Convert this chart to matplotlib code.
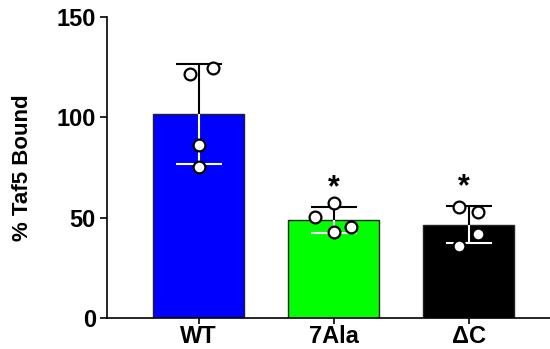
import numpy as np
import matplotlib
matplotlib.use("Agg")
import matplotlib.pyplot as plt

# data
groups = ["WT", "7Ala", "\u0394C"]
bar_colors = ["#0000ff", "#00ff00", "#000000"]
wt_points = [124.6, 121.6, 86.2, 75.2]
ala_points = [57.3, 50.3, 45.3, 42.8]
dc_points = [55.3, 52.8, 41.9, 35.9]
wt_jitter = [0.11, -0.06, 0.0, 0.0]
ala_jitter = [0.0, -0.14, 0.13, 0.0]
dc_jitter = [-0.07, 0.07, 0.07, -0.07]
significant = [False, True, True]

plt.rcParams["font.family"] = ["Liberation Sans", "DejaVu Sans"]
plt.rcParams["font.weight"] = "bold"

fig = plt.figure(figsize=(5.5, 3.49), dpi=100)
ax = fig.add_axes([0.1945, 0.0888, 0.8055, 0.8625])

points = [wt_points, ala_points, dc_points]
jitters = [wt_jitter, ala_jitter, dc_jitter]
x = np.arange(len(groups))
means = [np.mean(p) for p in points]
sds = [np.std(p, ddof=1) for p in points]

ax.bar(x, means, width=0.674, color=bar_colors, edgecolor="#222222",
       linewidth=1.0, zorder=1)

cap = 0.17
for i in range(len(groups)):
    top = means[i] + sds[i]
    bot = means[i] - sds[i]
    # upper half of the error bar in black, lower half (inside bar) in white
    ax.vlines(x[i], means[i], top, color="black", lw=1.5, zorder=2)
    ax.hlines(top, x[i] - cap, x[i] + cap, color="black", lw=1.5, zorder=2)
    ax.vlines(x[i], bot, means[i], color="white", lw=1.5, zorder=2)
    ax.hlines(bot, x[i] - cap, x[i] + cap, color="white", lw=1.5, zorder=2)
    ax.plot(x[i] + np.array(jitters[i]), points[i], "o", ms=8.5,
            mfc="white", mec="black", mew=1.6, zorder=3, clip_on=False)
    if significant[i]:
        ax.text(x[i] - 0.04 * (i == 2), top + 2.0, "*",
                ha="center", va="bottom", fontsize=22, fontweight="bold")

ax.set_xlim(-0.678, 2.6)
ax.set_ylim(0, 150)
ax.set_yticks([0, 50, 100, 150])
ax.set_xticks(x)
ax.set_xticklabels(groups, fontsize=17, fontweight="bold")
ax.tick_params(axis="y", labelsize=17, length=5, width=1.2, pad=3)
ax.tick_params(axis="x", length=4, width=1.2, pad=1)
for lbl in ax.get_yticklabels():
    lbl.set_fontweight("bold")
ax.set_ylabel("% Taf5 Bound", fontsize=16, fontweight="bold")
ax.yaxis.set_label_coords(-0.167, 0.5)

ax.spines["top"].set_visible(False)
ax.spines["right"].set_visible(False)
ax.spines["left"].set_linewidth(1.2)
ax.spines["bottom"].set_linewidth(1.2)

fig.savefig("out.png", dpi=100)
